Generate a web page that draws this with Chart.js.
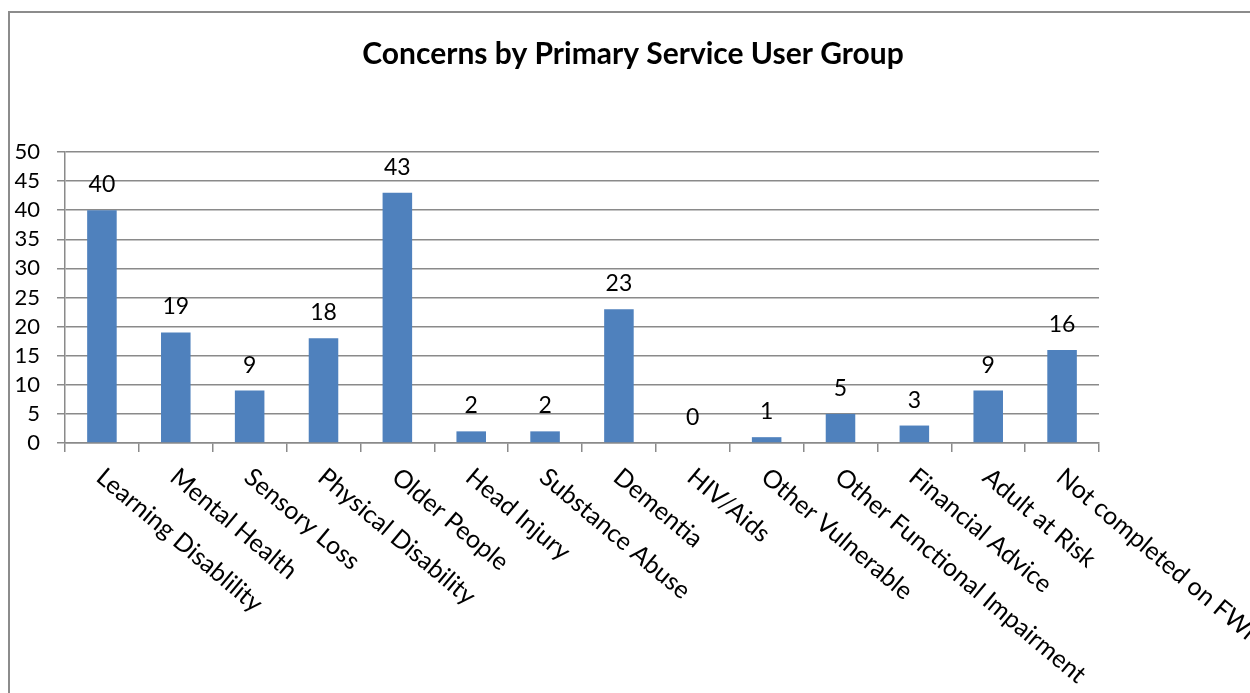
<!DOCTYPE html>
<html>
<head>
<meta charset="utf-8">
<script src="https://cdn.jsdelivr.net/npm/chart.js@4/dist/chart.umd.min.js"></script>
<style>
  html, body { margin: 0; padding: 0; background: #ffffff; }
  #wrap { position: relative; width: 1250px; height: 693px; }
  canvas { display: block; }
</style>
</head>
<body>
<div id="wrap"><canvas id="c" width="1250" height="693"></canvas></div>
<script>
const chartTitle = "Concerns by Primary Service User Group";
const categories = [
  "Learning Disablility", "Mental Health", "Sensory Loss", "Physical Disability",
  "Older People", "Head Injury", "Substance Abuse", "Dementia", "HIV/Aids",
  "Other Vulnerable", "Other Functional Impairment", "Financial Advice",
  "Adult at Risk", "Not completed on FWi"
];
const concerns = [40, 19, 9, 18, 43, 2, 2, 23, 0, 1, 5, 3, 9, 16];
const yTicks = [0, 5, 10, 15, 20, 25, 30, 35, 40, 45, 50];

const FONT = "Lato, 'Open Sans', sans-serif";
const GRID = "#8a8a8a";

const decorPlugin = {
  id: "decor",
  beforeDraw(chart) {
    const ctx = chart.ctx;
    ctx.save();
    ctx.fillStyle = "#ffffff";
    ctx.fillRect(0, 0, chart.width, chart.height);
    ctx.strokeStyle = "#8c8c8c";
    ctx.lineWidth = 2;
    ctx.beginPath();
    ctx.moveTo(9, chart.height + 5);
    ctx.lineTo(9, 12);
    ctx.lineTo(chart.width + 5, 12);
    ctx.stroke();
    ctx.restore();
  },
  afterDraw(chart) {
    const ctx = chart.ctx;
    ctx.save();
    // title
    ctx.fillStyle = "#000000";
    ctx.font = "bold 30px " + FONT;
    ctx.textAlign = "center";
    ctx.textBaseline = "middle";
    ctx.fillText(chartTitle, 633, 54);

    // data labels
    const meta = chart.getDatasetMeta(0);
    ctx.font = "23px " + FONT;
    ctx.textAlign = "center";
    ctx.textBaseline = "alphabetic";
    meta.data.forEach((bar, i) => {
      ctx.fillText(String(chart.data.datasets[0].data[i]), bar.x, bar.y - 18);
    });

    // rotated category labels
    const xs = chart.scales.x;
    ctx.font = "25px " + FONT;
    ctx.textAlign = "left";
    ctx.textBaseline = "top";
    const ang = 40 * Math.PI / 180;
    chart.data.labels.forEach((lab, i) => {
      const px = xs.getPixelForValue(i);
      ctx.save();
      ctx.translate(px + 6, xs.top + 21);
      ctx.rotate(ang);
      ctx.fillText(lab, 0, 0);
      ctx.restore();
    });
    ctx.restore();
  }
};

new Chart(document.getElementById("c"), {
  type: "bar",
  data: {
    labels: categories,
    datasets: [{
      data: concerns,
      backgroundColor: "#4f81bd",
      borderColor: "#4f81bd",
      borderWidth: 0,
      barPercentage: 0.4,
      categoryPercentage: 1.0
    }]
  },
  options: {
    responsive: false,
    animation: false,
    devicePixelRatio: 1,
    layout: { padding: { left: 0, right: 151, top: 152, bottom: 0 } },
    plugins: {
      legend: { display: false },
      title: { display: false },
      tooltip: { enabled: false }
    },
    scales: {
      x: {
        offset: true,
        grid: {
          offset: true,
          drawOnChartArea: false,
          drawTicks: true,
          tickLength: 9,
          color: GRID,
          lineWidth: 1.5
        },
        border: { color: GRID, width: 1.5 },
        ticks: { display: false },
        afterFit(s) { s.height = 693 - 152 - 291 ; }
      },
      y: {
        min: 0,
        max: 50,
        afterBuildTicks(s) { s.ticks = yTicks.map(v => ({ value: v })); },
        grid: {
          color: GRID,
          lineWidth: 1.5,
          drawTicks: true,
          tickLength: 8
        },
        border: { color: GRID, width: 1.5 },
        ticks: {
          color: "#000000",
          font: { family: FONT, size: 22 },
          padding: 17,
          autoSkip: false
        },
        afterFit(s) { s.width = 65; }
      }
    }
  },
  plugins: [decorPlugin]
});
</script>
</body>
</html>
